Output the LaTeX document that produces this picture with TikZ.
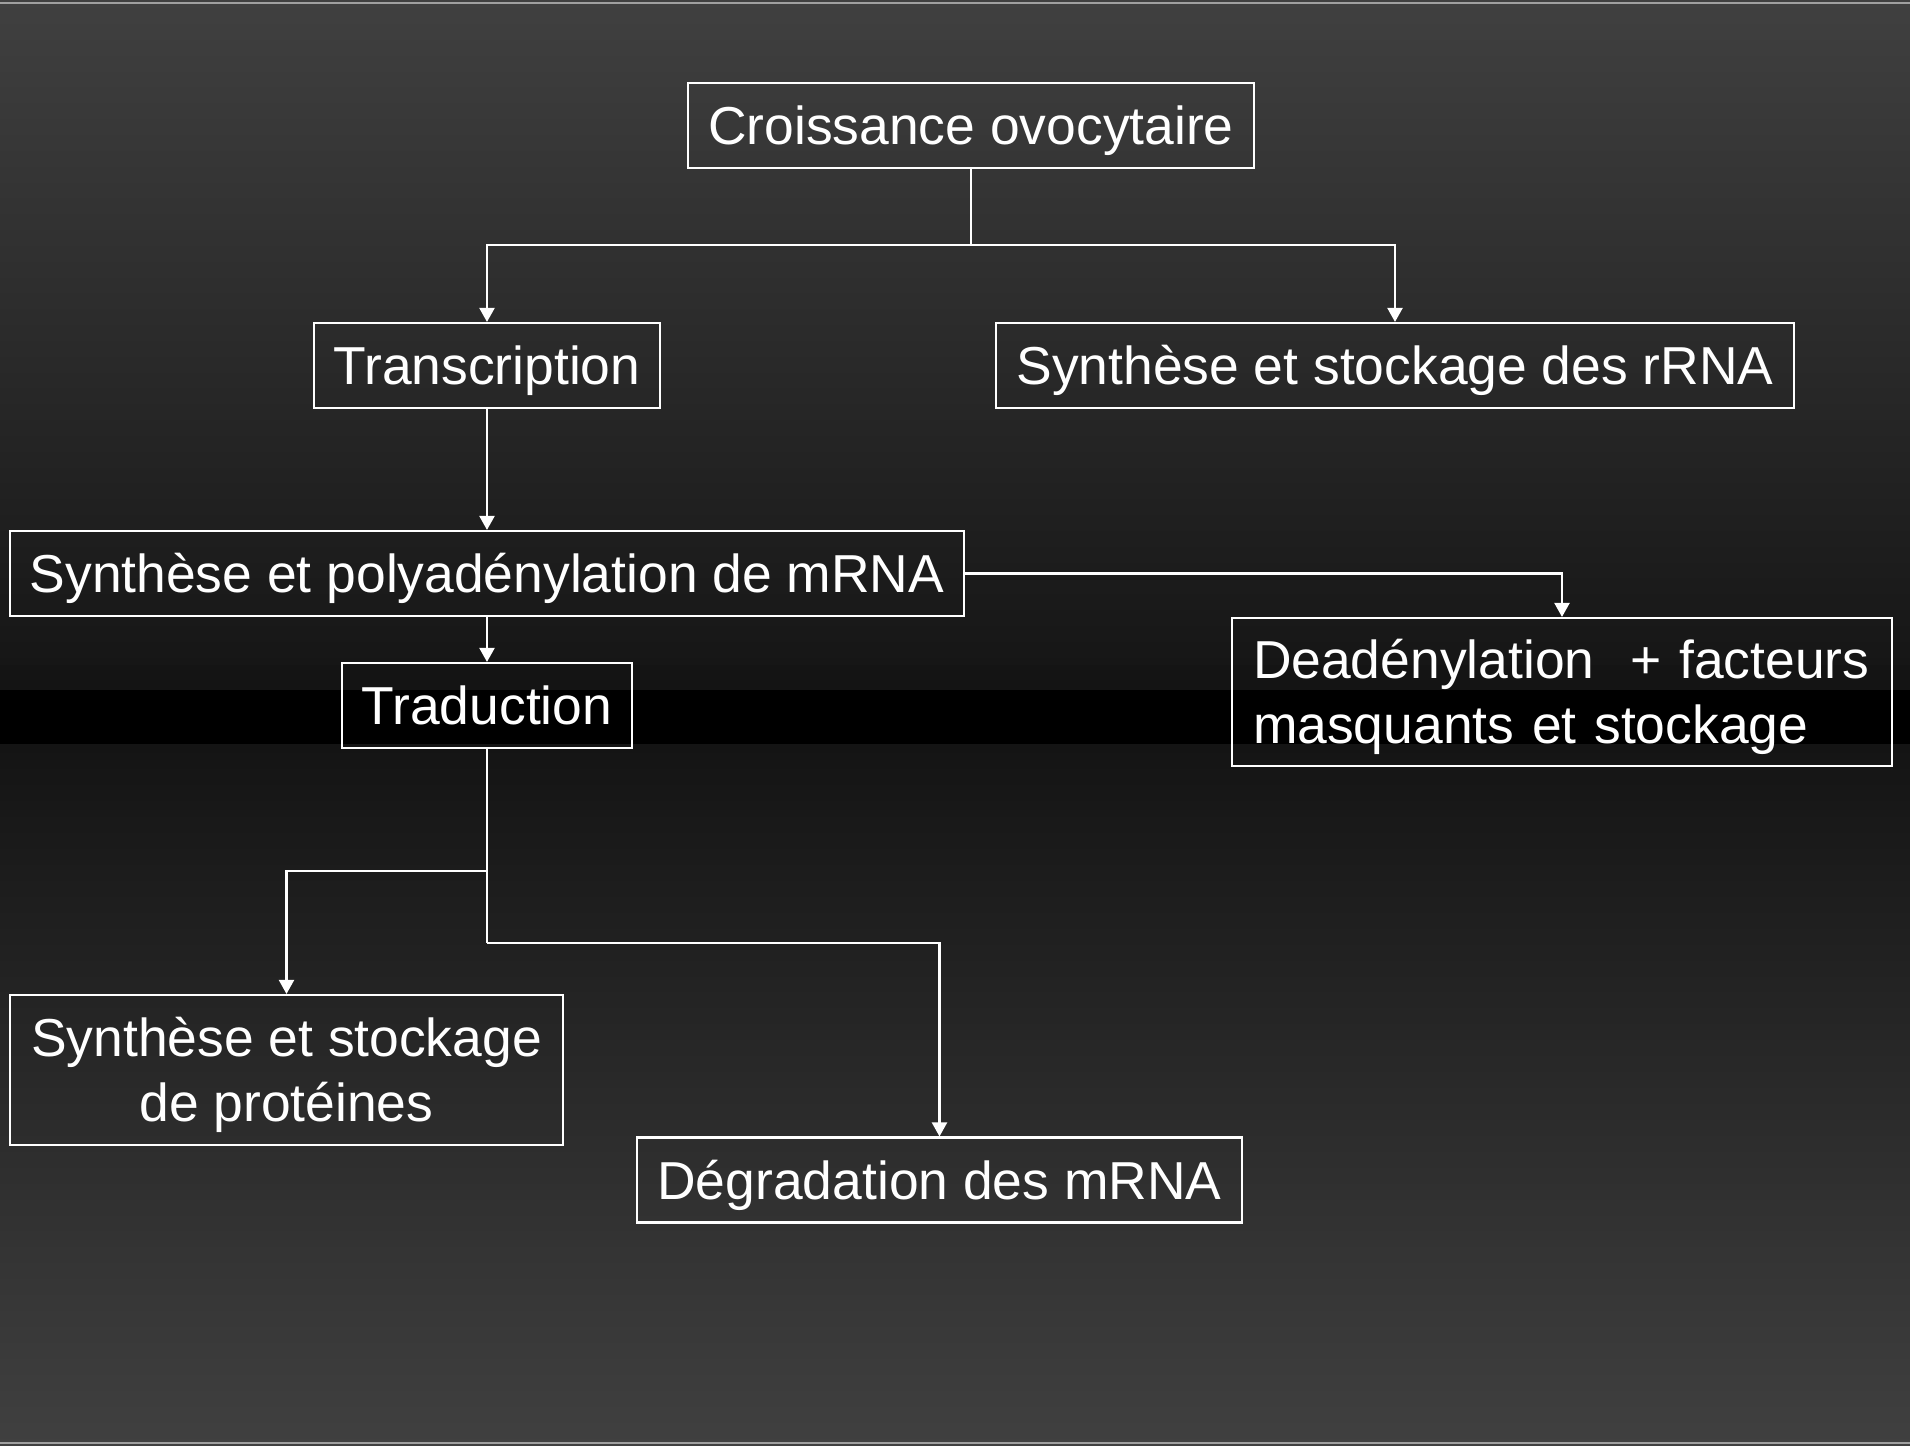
\documentclass[tikz,border=0pt]{standalone}
\usepackage{fontspec}
\setmainfont{Liberation Sans}
\usetikzlibrary{arrows.meta}
\definecolor{bgtop}{RGB}{64,64,64}
\definecolor{bgmid}{RGB}{22,22,22}
\definecolor{bglow}{RGB}{20,20,20}
\definecolor{rim}{RGB}{160,160,160}
\tikzset{
  hv/.style={to path={-| (\tikztotarget)}},
}

\begin{document}
\begin{tikzpicture}[font=\fontsize{15.2}{18.4}\selectfont]

      \useasboundingbox (0,0) rectangle (19.10,14.46);
      \shade[top color=bgtop,bottom color=bgmid] (0,7.81) rectangle (19.10,14.46);
      \fill[black!92!white] (0,7.56) rectangle (19.10,7.81);
      \fill[black] (0,7.01) rectangle (19.10,7.56);
      \shade[top color=bglow,bottom color=bgtop] (0,0) rectangle (19.10,7.01);
      \draw[rim,line width=0.3pt] (0,14.43) -- (19.10,14.43);
      \draw[rim,line width=0.3pt] (0,0.03) -- (19.10,0.03);

      \begin{scope}[every node/.style={draw=white,line width=0.6pt,text=white,
          inner xsep=0.2cm,inner ysep=0pt,minimum height=0.85cm,
          text height=12pt,text depth=1.1pt}]
        \node (1) at (9.71,13.205)  {Croissance ovocytaire};
        \node (2) at (4.87,10.805)  {Transcription};
        \node (3) at (13.95,10.805) {Synthèse et stockage des rRNA};
        \node (4) at (4.87,8.725)   {Synthèse et polyadénylation de mRNA};
        \node (5) at (4.87,7.405)   {Traduction};
        \node (8) at (9.395,2.66)   {Dégradation des mRNA};
      \end{scope}

      \begin{scope}[every node/.style={draw=white,line width=0.6pt,text=white,
          inner xsep=0.21cm,inner ysep=0pt}]
        \node[text width=6.18cm,align=left,minimum height=1.48cm,
          text height=10.9pt,text depth=18.4pt] (6) at (15.62,7.54)
          {Deadénylation\hspace{0.34em} + facteurs\\masquants et stockage};
        \node[align=center,minimum width=5.51cm,minimum height=1.5cm,
          text height=29.3pt,text depth=0pt] (7) at (2.865,3.76)
          {Synthèse et stockage\\de protéines};
      \end{scope}

      \coordinate (a) at (9.71,12.01);
      \coordinate (b) at (4.87,5.75);
      \coordinate (c) at (4.87,5.03);

      \begin{scope}[every edge/.style={draw=white,line width=0.6pt,
          -{Triangle[width=4.3pt,length=4pt]}}]
        \path (1)      edge[-]  (a);
        \path (a)      edge[hv] (2.north);
        \path (a)      edge[hv] (3.north);
        \path (2)      edge     (4);
        \path (4)      edge     (5);
        \path (4.east) edge[hv] (6.north);
        \path (5)      edge[-]  (c);
        \path (b)      edge[hv] (7.north);
        \path (c)      edge[hv] (8.north);
      \end{scope}

    \end{tikzpicture}
\end{document}
